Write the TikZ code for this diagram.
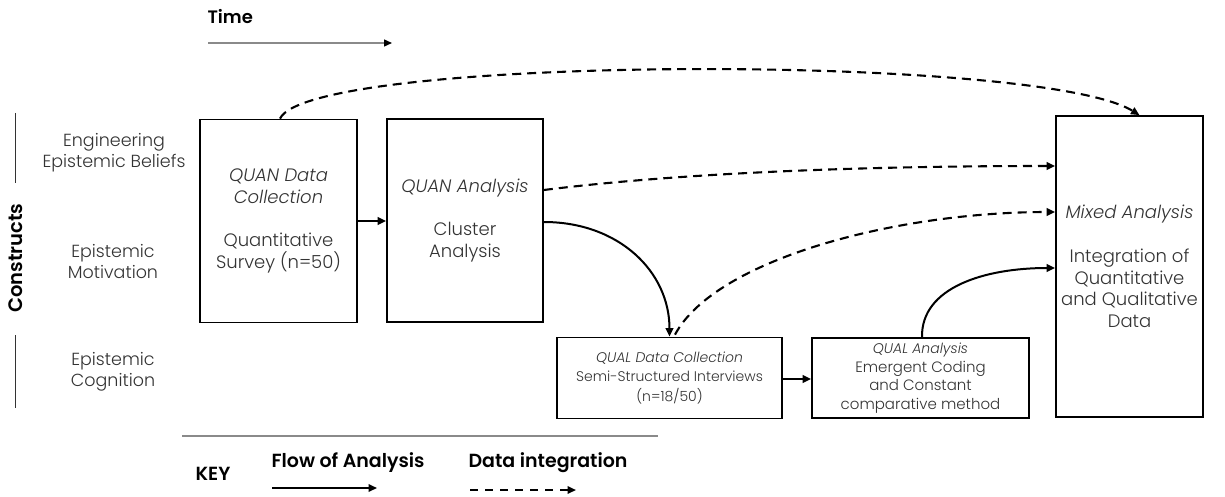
\documentclass[tikz,border=0pt]{standalone}
\usepackage{fontspec}
\setmainfont{Poppins}[UprightFont=* Light, ItalicFont=* Light Italic, BoldFont=* SemiBold]
\usetikzlibrary{arrows.meta}
\definecolor{ink}{HTML}{333333}
\definecolor{rulegray}{HTML}{8A8A8A}
\begin{document}
\begin{tikzpicture}[x=1pt,y=-1pt,
  stage/.style={draw=black, line width=1.7pt, inner sep=0pt, align=center,
    text=ink, font=\fontsize{18}{21.7}\selectfont},
  construct/.style={text=ink, align=center, font=\fontsize{17.5}{21}\selectfont},
  heading/.style={text=black, font=\bfseries\fontsize{19}{22}\selectfont},
  tip/.style={-{Triangle[length=8.5pt,width=7.5pt]}},
  flow/.style={tip, line width=2pt},
  integ/.style={tip, line width=2.1pt, dash pattern=on 9pt off 6pt},
  divider/.style={line width=1pt, draw=ink},
]
\useasboundingbox (0,0) rectangle (1225,497);

% ---- stage boxes ----
\node[stage, minimum width=157, minimum height=203] (qdc) at (278.5,221)
  {\textit{QUAN Data}\\\textit{Collection}\\~\\Quantitative\\Survey (n=50)};
\node[stage, minimum width=156, minimum height=203] (qan) at (465,220.5)
  {\textit{QUAN Analysis}\\~\\Cluster\\Analysis};
\node[stage, minimum width=225, minimum height=81,
  font=\fontsize{14}{19.5}\selectfont] (ldc) at (669.5,378)
  {\textit{QUAL Data Collection}\\Semi-Structured Interviews\\(n=18/50)};
\node[stage, minimum width=217, minimum height=80,
  font=\fontsize{15}{18.5}\selectfont] (lan) at (920.5,378)
  {{\fontsize{14}{18}\selectfont\textit{QUAL Analysis}}\\Emergent Coding\\and Constant\\comparative method};
\node[stage, minimum width=147, minimum height=301] (mix) at (1129.5,266.5)
  {\textit{Mixed Analysis}\\~\\Integration of\\Quantitative\\and Qualitative\\Data};

% ---- construct labels ----
\node[construct] (beliefs) at (114,152.5) {Engineering\\Epistemic Beliefs};
\node[construct] (motiv) at (113,261) {Epistemic\\Motivation};
\node[construct] (cogn) at (113,372) {Epistemic\\Cognition};
\node[heading, rotate=90, font=\bfseries\fontsize{19.5}{22}\selectfont] (constructs) at (16,258) {Constructs};
\draw[divider] (15,113) coordinate (r1a) -- (15,183) coordinate (r1b);
\draw[divider] (15,335) coordinate (r2a) -- (15,408) coordinate (r2b);

% ---- time axis ----
\node[heading, anchor=west, font=\bfseries\fontsize{18}{22}\selectfont] (time) at (204,17) {Time};
\coordinate (t0) at (208,43);
\coordinate (t1) at (392,43);
\draw[line width=1.4pt, draw=rulegray, -{Triangle[length=8pt,width=7pt,color=black]}] (t0) -- (t1);

% ---- flow of analysis ----
\coordinate (ldcout) at ([yshift=-1]ldc.east);
\draw[flow] (qdc.east) -- (qan.west |- qdc.east);
\draw[flow] ([yshift=-1.5]qan.east) .. controls +(75,0) and +(0,-65) .. (ldc.north);
\draw[flow] (ldcout) -- (lan.west |- ldcout);
\draw[flow] ([xshift=1.5]lan.north) .. controls +(-1,-50) and +(-70,0) .. ([yshift=-1.5]mix.west);

% ---- data integration ----
\draw[integ] ([xshift=1.5]qdc.north) .. controls +(30,-64) and +(-100,-62) .. ([xshift=10]mix.north);
\draw[integ] ([yshift=30.5]qan.east) .. controls +(160,-20) and +(-150,0) .. ([yshift=100.5]mix.west);
\draw[integ] ([xshift=5.5,yshift=2]ldc.north) .. controls +(40,-75) and +(-160,0) .. ([yshift=54.5]mix.west);

% ---- key ----
\draw[line width=1.4pt, draw=rulegray] (182,436) coordinate (k0) -- (658,436) coordinate (k1);
\node[heading] (key) at (213,474) {KEY};
\node[heading, anchor=west] (flowlbl) at (268,463) {Flow of Analysis};
\node[heading, anchor=west] (integlbl) at (465,463) {Data integration};
\coordinate (fa0) at (272,488);
\coordinate (fa1) at (377,488);
\draw[flow] (fa0) -- (fa1);
\coordinate (di0) at (470,490);
\coordinate (di1) at (576,490);
\draw[integ, dash pattern=on 8pt off 7pt] (di0) -- (di1);
\end{tikzpicture}
\end{document}
